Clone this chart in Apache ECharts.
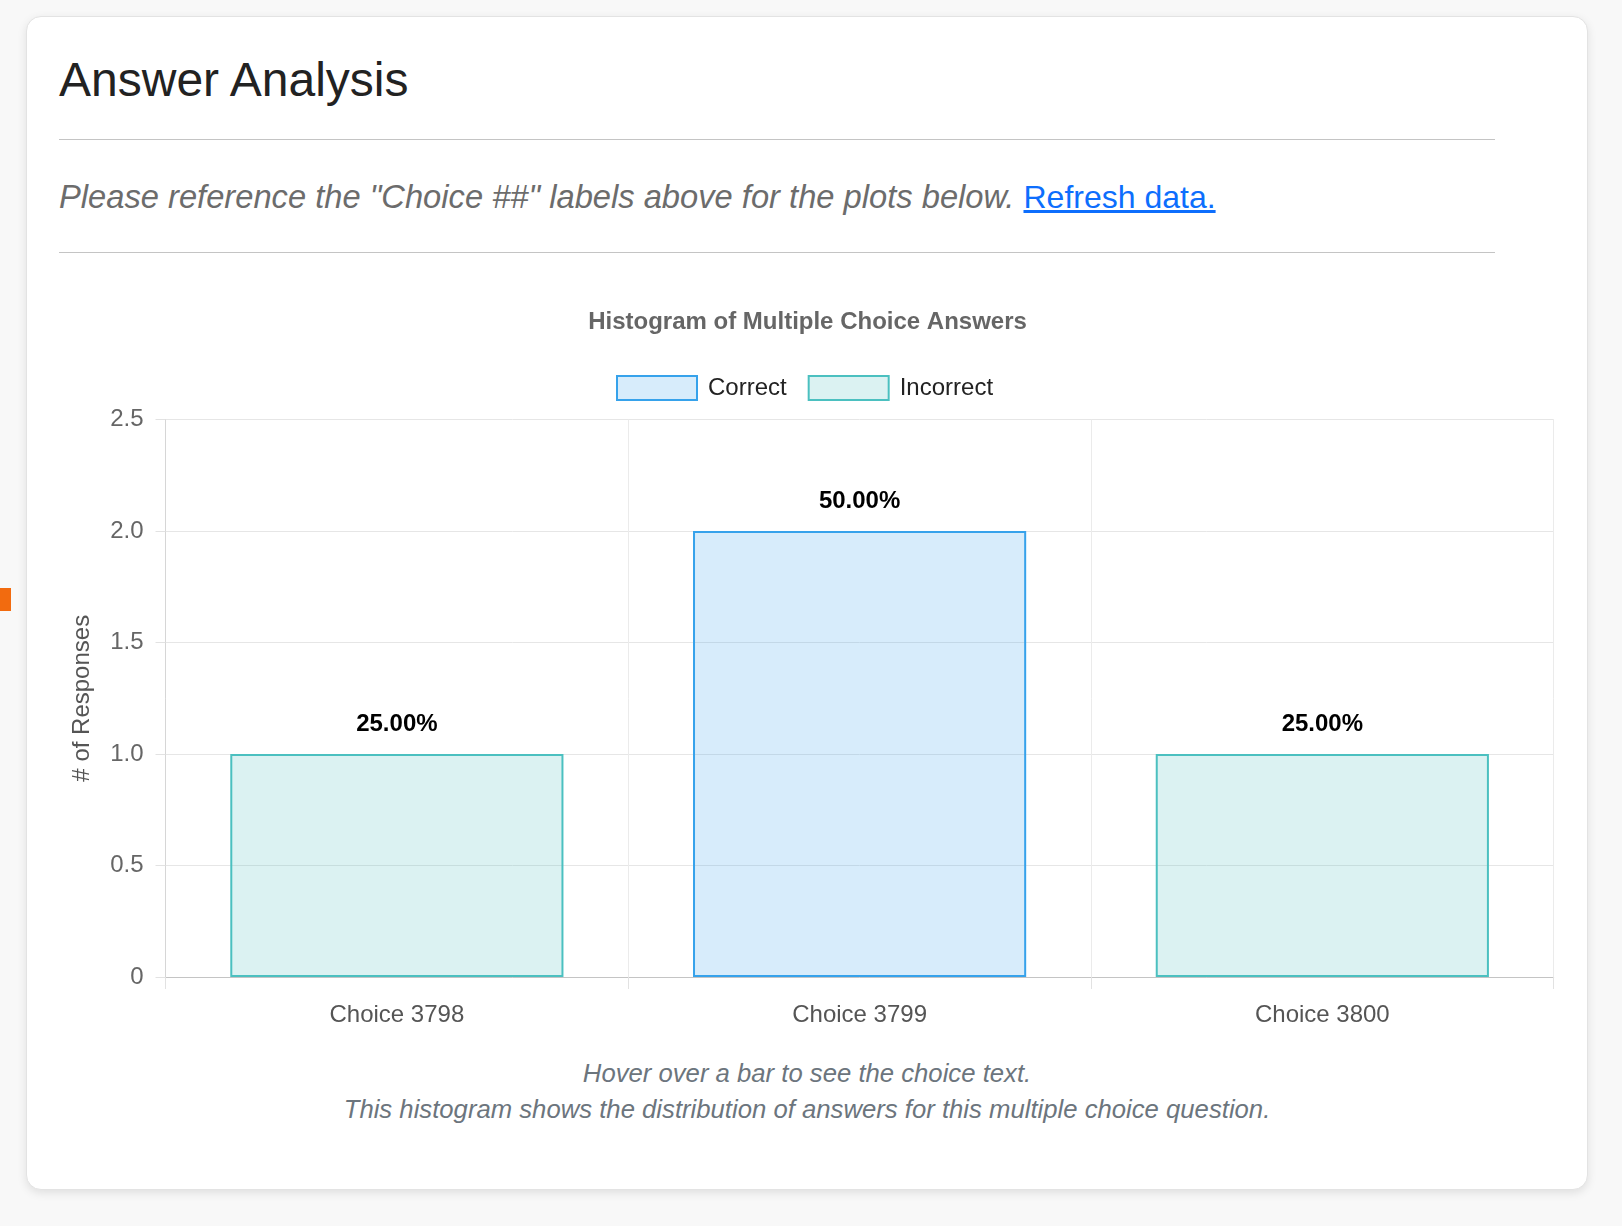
<!DOCTYPE html>
<html><head><meta charset="utf-8">
<script src="https://cdn.jsdelivr.net/npm/echarts@6/dist/echarts.min.js"></script>
<style>
html,body{margin:0;padding:0;width:1622px;height:1226px;background:#f8f8f8;overflow:hidden;font-family:"Liberation Sans",Arial,Helvetica,sans-serif;}
.abs{position:absolute;}
#card{left:26px;top:16px;width:1562px;height:1174px;box-sizing:border-box;background:#fff;border:1px solid #e3e3e3;border-radius:15px;box-shadow:0 3px 10px rgba(0,0,0,0.10);}
#mark{left:0;top:588px;width:11px;height:23px;background:#f26b0f;}
#head{left:59px;top:56px;font-size:48px;line-height:48px;font-weight:500;color:#222;white-space:nowrap;}
.hr{left:59px;width:1436px;height:1px;background:#c4c4c4;}
#sub{left:59px;top:181px;font-size:32.7px;line-height:32px;font-style:italic;color:#6c6c6c;white-space:nowrap;}
#sub a{color:#0d6efd;text-decoration:underline;font-style:normal;font-size:32px;}
#foot{left:26px;width:1562px;top:1055px;text-align:center;font-size:25.7px;line-height:36px;font-style:italic;color:#6c757d;}
#chart{left:0;top:0;width:1622px;height:1226px;}
</style></head>
<body>
<div id="mark" class="abs"></div>
<div id="card" class="abs"></div>
<div id="head" class="abs">Answer Analysis</div>
<div class="abs hr" style="top:139px"></div>
<div id="sub" class="abs">Please reference the "Choice ##" labels above for the plots below. <a href="#">Refresh data.</a></div>
<div class="abs hr" style="top:252px"></div>
<div id="foot" class="abs">Hover over a bar to see the choice text.<br>This histogram shows the distribution of answers for this multiple choice question.</div>
<div id="chart" class="abs"></div>
<script>
const categories = ['Choice 3798', 'Choice 3799', 'Choice 3800'];
const correctCounts = [0, 2, 0];
const incorrectCounts = [1, 0, 1];
const yTickLabels = ['0', '0.5', '1.0', '1.5', '2.0', '2.5'];
const seriesNames = ['Correct', 'Incorrect'];
const chartTitle = 'Histogram of Multiple Choice Answers';
const yAxisTitle = '# of Responses';

const total = correctCounts.reduce((a, b) => a + b, 0) + incorrectCounts.reduce((a, b) => a + b, 0);
const FONT = '"Liberation Sans", Arial, Helvetica, sans-serif';
const styles = [
  {color: 'rgba(54,162,235,0.2)', borderColor: 'rgb(54,162,235)', borderWidth: 2},
  {color: 'rgba(75,192,192,0.2)', borderColor: 'rgb(75,192,192)', borderWidth: 2}
];
const labelCfg = {
  show: true, position: 'top', distance: 18,
  fontFamily: FONT, fontSize: 24, fontWeight: 'bold', color: '#000',
  formatter: p => (p.value / total * 100).toFixed(2) + '%'
};
function mk(name, vals, st) {
  return {
    name: name, type: 'bar', stack: 'all', barWidth: '72%',
    data: vals.map(v => v === 0 ? '-' : v),
    itemStyle: st, label: labelCfg, emphasis: {disabled: true}
  };
}
const chart = echarts.init(document.getElementById('chart'), null, {renderer: 'canvas'});
chart.setOption({
  animation: false,
  backgroundColor: 'transparent',
  textStyle: {fontFamily: FONT},
  title: {
    text: chartTitle, left: 802.5, top: 305, textAlign: 'center',
    textStyle: {fontFamily: FONT, fontSize: 24, fontWeight: 'bold', color: '#666'}
  },
  legend: {
    left: 616, top: 375, padding: 0, itemWidth: 80, itemHeight: 24, itemGap: 21,
    icon: 'rect',
    textStyle: {fontFamily: FONT, fontSize: 24, color: '#222', padding: [0, 0, 0, 6]},
    data: seriesNames.map((n, i) => ({name: n, itemStyle: styles[i]}))
  },
  grid: {left: 165.5, right: 68.3, top: 419.5, bottom: 249, containLabel: false},
  xAxis: {
    type: 'category', data: categories, boundaryGap: true,
    axisLine: {show: true, lineStyle: {color: '#c4c4c4', width: 1}},
    axisTick: {show: true, length: 12, lineStyle: {color: '#e2e2e2'}},
    axisLabel: {margin: 26, fontFamily: FONT, fontSize: 24, color: '#555'},
    splitLine: {show: true, lineStyle: {color: '#ebebeb', width: 1}}
  },
  yAxis: {
    type: 'value', min: 0, max: 2.5, interval: 0.5,
    name: yAxisTitle, nameLocation: 'middle', nameRotate: 90, nameGap: 71,
    nameTextStyle: {fontFamily: FONT, fontSize: 24, color: '#555'},
    axisLine: {show: true, lineStyle: {color: '#d6d6d6', width: 1}},
    axisTick: {show: true, length: 10, lineStyle: {color: '#e2e2e2'}},
    axisLabel: {margin: 22, fontFamily: FONT, fontSize: 24, color: '#666',
      formatter: v => yTickLabels[Math.round(v / 0.5)]},
    splitLine: {show: true, lineStyle: {color: '#e6e6e6', width: 1}}
  },
  series: [mk(seriesNames[0], correctCounts, styles[0]), mk(seriesNames[1], incorrectCounts, styles[1])]
});
</script>
</body></html>
